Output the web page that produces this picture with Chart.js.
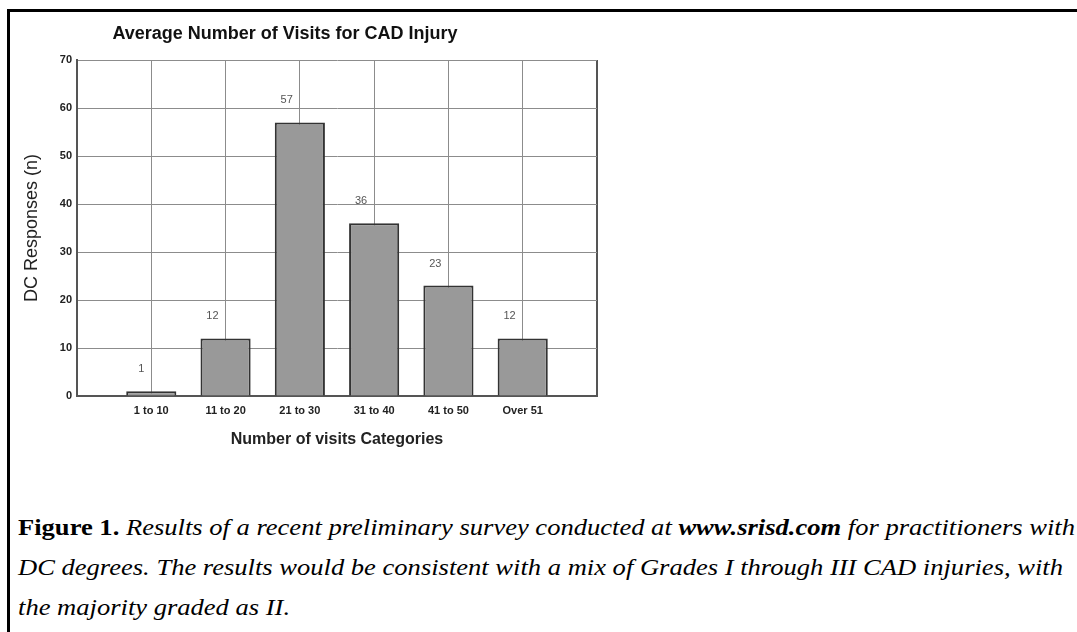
<!DOCTYPE html>
<html>
<head>
<meta charset="utf-8">
<script src="https://cdn.jsdelivr.net/npm/chart.js@4/dist/chart.umd.min.js"></script>
<style>
  html, body { margin: 0; padding: 0; background: #fff; width: 1077px; height: 632px; overflow: hidden; }
  #frame { position: absolute; left: 7px; top: 9px; width: 1070px; height: 623px;
           border-top: 3px solid #000; border-left: 3px solid #000; box-sizing: border-box; }
  #wrap { position: absolute; left: 0; top: 0; width: 640px; height: 470px; }
  #caption { position: absolute; left: 18px; top: 507px; font-family: "Liberation Serif", "Times New Roman", serif;
             font-size: 24px; color: #000; }
  #caption div { white-space: nowrap; height: 40px; line-height: 40px; transform-origin: 0 50%; }
</style>
</head>
<body>
<div id="frame"></div>
<div id="wrap"><canvas id="chart"></canvas></div>
<div id="caption">
  <div><span><b>Figure 1.</b> <i>Results of a recent preliminary survey conducted at <b>www.srisd.com</b> for practitioners with</i></span></div>
  <div><span><i>DC degrees. The results would be consistent with a mix of Grades I through III CAD injuries, with</i></span></div>
  <div><span><i>the majority graded as II.</i></span></div>
</div>
<script>
const chartTitle = "Average Number of Visits for CAD Injury";
const xTitle = "Number of visits Categories";
const yTitle = "DC Responses (n)";
const categories = ["1 to 10", "11 to 20", "21 to 30", "31 to 40", "41 to 50", "Over 51"];
const responses = [1, 12, 57, 36, 23, 12];
const yMin = 0, yMax = 70, yStep = 10;

// empty slot on each side, like the original axis
const labels = ["", ...categories, ""];
const values = [null, ...responses, null];

const sansFont = "'Liberation Sans', Arial, sans-serif";

// title centred over the original picture, not the plot
const titlePlugin = {
  id: "figTitle",
  afterDraw(chart) {
    const ctx = chart.ctx;
    ctx.save();
    ctx.font = "bold 18px " + sansFont;
    ctx.fillStyle = "#111";
    ctx.textAlign = "center";
    ctx.textBaseline = "middle";
    ctx.fillText(chartTitle, 285, 34);
    ctx.restore();
  }
};

// value labels, sitting up and left of each bar
const valueLabels = {
  id: "valueLabels",
  afterDatasetsDraw(chart) {
    const ctx = chart.ctx;
    const meta = chart.getDatasetMeta(0);
    ctx.save();
    ctx.font = "11px " + sansFont;
    ctx.fillStyle = "#555";
    ctx.textAlign = "right";
    ctx.textBaseline = "middle";
    meta.data.forEach((bar, i) => {
      const v = values[i];
      if (v === null) return;
      ctx.fillText(String(v), bar.x - 7, bar.y - 22);
    });
    ctx.restore();
  }
};

new Chart(document.getElementById("chart"), {
  type: "bar",
  data: {
    labels: labels,
    datasets: [{
      data: values,
      backgroundColor: "#999999",
      borderColor: "#333333",
      borderWidth: 2,
      barPercentage: 0.675,
      categoryPercentage: 1
    }]
  },
  options: {
    responsive: true,
    maintainAspectRatio: false,
    animation: false,
    layout: { padding: { top: 60, left: 0, right: 43, bottom: 14 } },
    plugins: { legend: { display: false }, tooltip: { enabled: false } },
    scales: {
      x: {
        type: "category",
        offset: false,
        grid: {
          offset: false,
          drawTicks: false,
          color: ctx => ctx.index === labels.length - 1 ? "#555" : "#8c8c8c",
          lineWidth: ctx => ctx.index === labels.length - 1 ? 2 : 1
        },
        border: { color: "#555", width: 2 },
        ticks: { font: { family: sansFont, size: 11, weight: "bold" }, color: "#222", padding: 8, maxRotation: 0, autoSkip: false },
        title: { display: true, text: xTitle, font: { family: sansFont, size: 16, weight: "bold" }, color: "#222", padding: { top: 0, bottom: 7 } },
        afterFit: s => { s.height = 60; }
      },
      y: {
        min: yMin,
        max: yMax,
        grid: { drawTicks: false, color: "#8c8c8c", lineWidth: 1 },
        border: { color: "#555", width: 2 },
        ticks: { stepSize: yStep, font: { family: sansFont, size: 11, weight: "bold" }, color: "#222", padding: 5 },
        title: { display: true, text: yTitle, font: { family: sansFont, size: 18 }, color: "#222", padding: { top: 21, bottom: 0 } },
        afterFit: s => { s.width = 77; }
      }
    }
  },
  plugins: [titlePlugin, valueLabels]
});

// fit caption to the width of the original text block
const lines = document.querySelectorAll("#caption div");
const w = lines[0].querySelector("span").getBoundingClientRect().width;
const sx = 1057 / w;
lines.forEach(d => { d.style.transform = "scaleX(" + sx + ")"; });
</script>
</body>
</html>
